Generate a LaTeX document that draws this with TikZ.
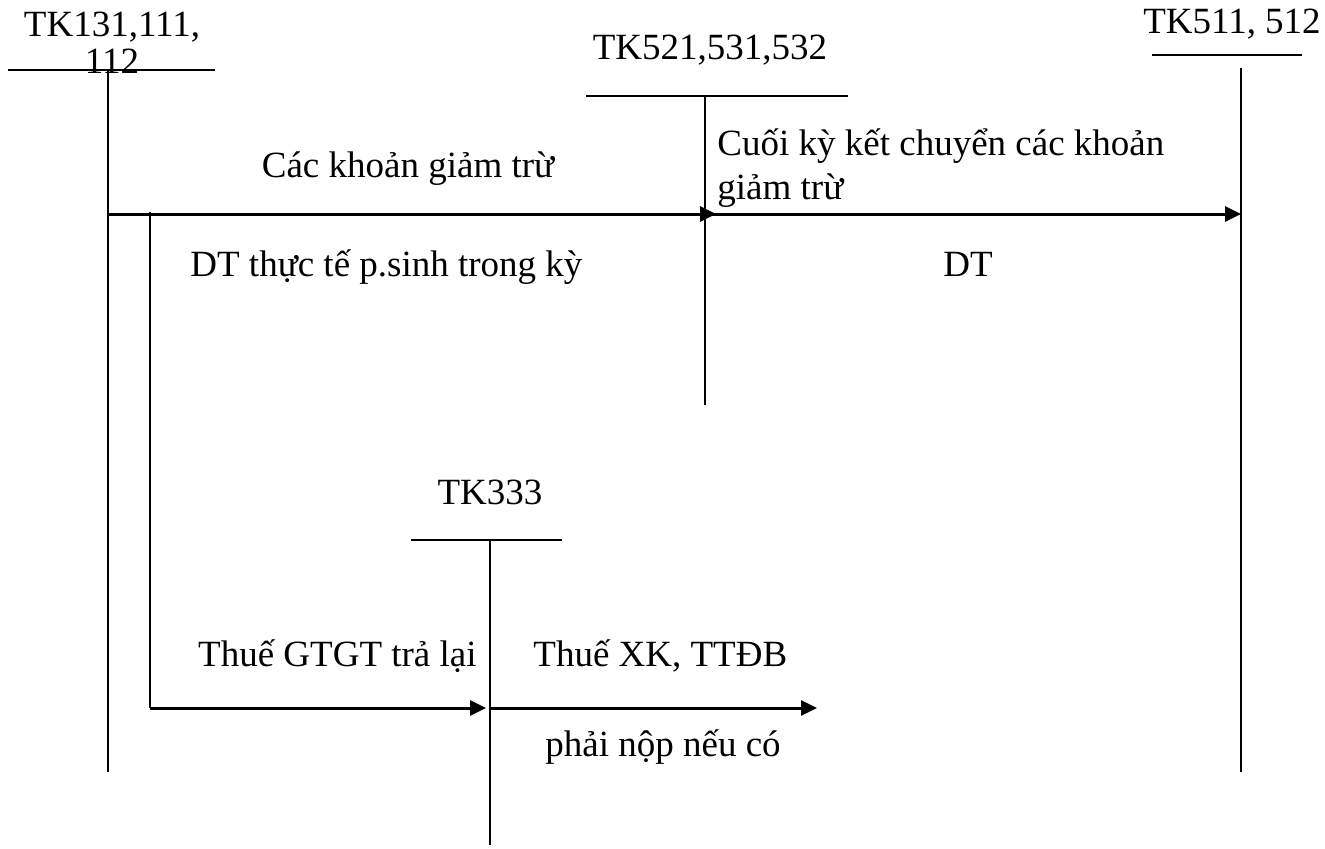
\documentclass[tikz,border=0pt]{standalone}
\usepackage{fontspec}
\setmainfont{Liberation Serif}
\usetikzlibrary{arrows.meta}
\begin{document}
\begin{tikzpicture}[x=0.5pt,y=-0.5pt,
  acct/.style={line width=1pt},
  flow/.style={line width=1.5pt,-{Triangle[length=8pt,width=7.5pt]}},
  lbl/.style={inner sep=0pt,font=\fontsize{18.5pt}{18.5pt}\selectfont},
]
\useasboundingbox (0,0) rectangle (1325,848);

% T-accounts: top bar and vertical stem
\coordinate (a1L) at (8,70);   \coordinate (a1R) at (215,70);
\coordinate (a1T) at (108,70); \coordinate (a1B) at (108,772);
\coordinate (a2L) at (586,96); \coordinate (a2R) at (848,96);
\coordinate (a2T) at (705,96); \coordinate (a2B) at (705,405);
\coordinate (a3L) at (1152,55); \coordinate (a3R) at (1302,55);
\coordinate (a3T) at (1241,68); \coordinate (a3B) at (1241,772);
\coordinate (a4L) at (411,540); \coordinate (a4R) at (562,540);
\coordinate (a4T) at (490,540); \coordinate (a4B) at (490,845);

\foreach \k in {1,2,3,4} {
  \draw[acct] (a\k L) -- (a\k R);
  \draw[acct] (a\k T) -- (a\k B);
}

% account titles (a multi-line node's base is its last line)
\node[lbl,anchor=base,align=center] (t1) at (112,73) {TK131,111,\\112};
\node[lbl,anchor=base] (t2) at (710,59) {TK521,531,532};
\node[lbl,anchor=base] (t3) at (1232,33) {TK511, 512};
\node[lbl,anchor=base] (t4) at (490,504) {TK333};

% main flows
\coordinate (f1s) at (108,214);
\coordinate (f1e) at (716,214);
\coordinate (f2s) at (705,214);
\coordinate (f2e) at (1241,214);
\draw[flow] (f1s) -- (f1e);
\draw[flow] (f2s) -- (f2e);

% branch to TK333
\coordinate (b0) at (150,212);
\coordinate (b1) at (150,708);
\coordinate (b2) at (486,708);
\coordinate (b3) at (490,708);
\coordinate (b4) at (817,708);
\draw[acct] (b0) -- (b1);
\draw[flow] (b1) -- (b2);
\draw[flow] (b3) -- (b4);

% flow labels
\node[lbl,anchor=base] (l1) at (408,177) {Các khoản giảm trừ};
\node[lbl,anchor=base west] (l2) at (190,276) {DT thực tế p.sinh trong kỳ};
\node[lbl,anchor=base west] (l3) at (717,155) {Cuối kỳ kết chuyển các khoản};
\node[lbl,anchor=base west] (l4) at (717,199) {giảm trừ};
\node[lbl,anchor=base] (l5) at (968,276) {DT};
\node[lbl,anchor=base east] (l6) at (477,666) {Thuế GTGT trả lại};
\node[lbl,anchor=base west] (l7) at (533,666) {Thuế XK, TTĐB};
\node[lbl,anchor=base west] (l8) at (545,756) {phải nộp nếu có};
\end{tikzpicture}
\end{document}
